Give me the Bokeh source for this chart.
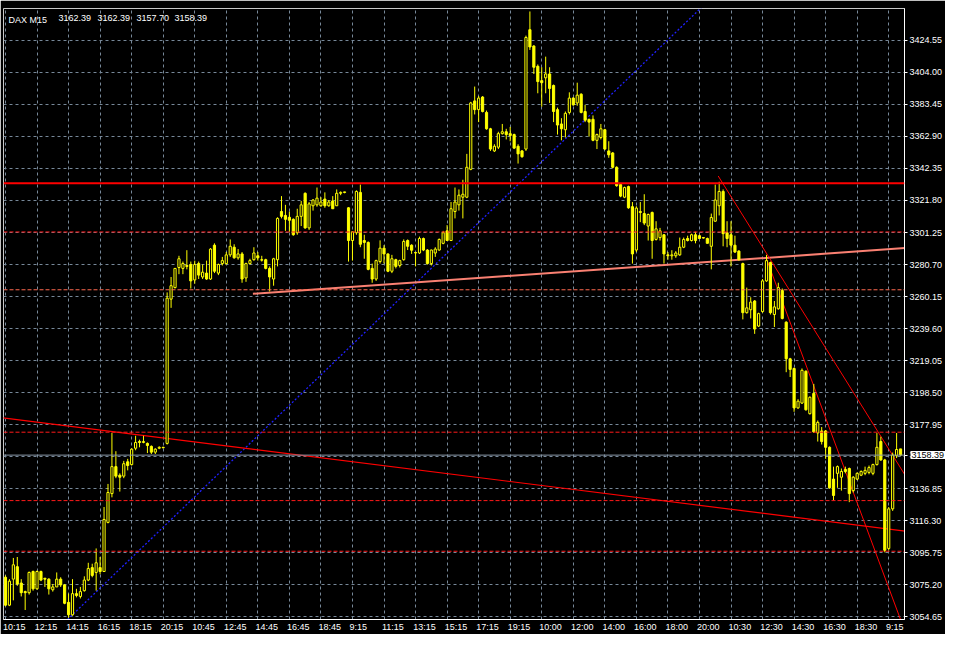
from bokeh.plotting import figure
from bokeh.models import FixedTicker, PrintfTickFormatter, Span, Label, ColumnDataSource
from bokeh.embed import file_html
from bokeh.resources import INLINE

symbol = "DAX M15"

opens = [
    3080.0, 3062.1, 3078.8, 3086.8, 3076.3, 3070.8, 3070.1, 3083.7, 3072.6, 3083.7, 3079.4, 3078.8,
    3072.0, 3073.8, 3078.8, 3075.1, 3063.9, 3055.9, 3069.5, 3067.7, 3071.4, 3078.2, 3086.2, 3083.1,
    3086.2, 3083.7, 3115.2, 3133.7, 3151.0, 3145.5, 3144.9, 3154.1, 3152.3, 3162.8, 3167.1, 3166.5,
    3165.9, 3164.0, 3160.3, 3162.8, 3163.4, 3165.9, 3258.5, 3265.9, 3278.8, 3278.2, 3280.1, 3280.7,
    3270.8, 3281.3, 3272.7, 3275.2, 3271.4, 3293.1, 3275.2, 3281.3, 3281.3, 3286.9, 3291.8, 3285.0,
    3287.5, 3272.1, 3281.3, 3283.8, 3286.3, 3283.8, 3283.8, 3278.2, 3271.4, 3283.8, 3314.7, 3312.2,
    3311.0, 3309.7, 3301.1, 3311.6, 3326.4, 3304.2, 3318.4, 3319.0, 3318.4, 3322.7, 3318.4, 3321.5,
    3318.4, 3326.4, 3327.0, 3317.1, 3296.1, 3301.1, 3327.0, 3296.1, 3294.9, 3278.2, 3271.4, 3282.6,
    3291.2, 3287.5, 3276.4, 3283.8, 3280.1, 3283.8, 3296.1, 3293.1, 3288.4, 3288.1, 3297.4, 3290.0,
    3281.3, 3288.1, 3290.0, 3294.3, 3302.3, 3296.1, 3314.7, 3319.0, 3323.9, 3323.9, 3341.8, 3385.7,
    3380.1, 3388.2, 3378.3, 3367.8, 3353.6, 3356.0, 3364.7, 3365.9, 3364.7, 3364.1, 3356.6, 3353.6,
    3354.8, 3431.4, 3420.9, 3407.9, 3398.7, 3400.5, 3403.0, 3395.6, 3380.1, 3370.9, 3367.2, 3378.3,
    3387.5, 3384.4, 3390.0, 3378.9, 3373.9, 3373.9, 3360.4, 3362.2, 3367.2, 3353.6, 3352.3, 3343.1,
    3332.0, 3323.9, 3330.7, 3317.8, 3290.0, 3314.7, 3313.4, 3305.4, 3314.1, 3296.8, 3298.0, 3299.8,
    3286.9, 3286.3, 3286.3, 3286.9, 3291.8, 3297.4, 3296.1, 3299.8, 3299.2, 3298.0, 3297.4, 3292.4,
    3308.5, 3318.4, 3327.6, 3301.1, 3299.8, 3293.1, 3289.3, 3281.3, 3249.8, 3251.7, 3257.3, 3241.2,
    3250.5, 3270.2, 3282.0, 3248.6, 3252.3, 3264.0, 3243.7, 3220.2, 3214.0, 3188.7, 3191.8, 3212.2,
    3185.0, 3198.0, 3172.6, 3173.9, 3173.9, 3163.4, 3143.0, 3146.7, 3144.2, 3149.2, 3149.8, 3135.6,
    3143.0, 3145.5, 3146.7, 3147.3, 3146.7, 3152.3, 3167.1, 3155.3, 3098.5, 3123.9, 3158.0, 3162.39,
]
highs = [
    3081.2, 3078.8, 3092.4, 3093.0, 3078.8, 3071.4, 3083.7, 3084.3, 3084.3, 3084.3, 3079.4, 3079.4,
    3075.7, 3083.1, 3080.0, 3075.7, 3069.5, 3078.8, 3072.6, 3073.8, 3080.6, 3089.3, 3088.7, 3098.5,
    3093.0, 3125.1, 3139.9, 3172.6, 3160.9, 3146.7, 3154.7, 3156.0, 3162.8, 3170.8, 3168.3, 3170.8,
    3166.5, 3164.6, 3162.8, 3164.0, 3163.7, 3262.8, 3272.7, 3278.4, 3286.3, 3282.6, 3289.9, 3282.6,
    3283.2, 3282.6, 3280.7, 3283.2, 3291.2, 3294.3, 3281.3, 3285.6, 3288.7, 3296.8, 3293.7, 3290.6,
    3288.7, 3281.9, 3284.4, 3291.8, 3288.7, 3286.3, 3284.4, 3279.5, 3285.0, 3311.0, 3324.6, 3319.0,
    3314.7, 3310.3, 3316.5, 3321.5, 3327.0, 3320.8, 3322.7, 3330.1, 3323.9, 3327.0, 3322.1, 3324.6,
    3328.9, 3327.6, 3327.3, 3317.5, 3302.0, 3328.3, 3332.0, 3299.8, 3295.5, 3281.3, 3283.8, 3296.2,
    3293.1, 3287.8, 3286.9, 3284.4, 3283.8, 3296.8, 3296.8, 3293.7, 3288.7, 3298.6, 3298.0, 3290.6,
    3290.3, 3291.8, 3297.4, 3302.3, 3306.0, 3320.8, 3330.1, 3328.9, 3335.1, 3351.7, 3385.1, 3394.9,
    3388.8, 3388.8, 3379.5, 3368.4, 3357.9, 3365.9, 3370.9, 3367.8, 3369.0, 3364.7, 3357.9, 3354.2,
    3427.6, 3443.1, 3421.5, 3409.1, 3407.3, 3414.1, 3407.3, 3396.2, 3381.4, 3374.6, 3378.9, 3391.2,
    3388.2, 3397.4, 3390.6, 3383.2, 3374.2, 3376.4, 3364.7, 3370.9, 3367.8, 3359.8, 3352.9, 3343.7,
    3332.6, 3330.7, 3331.3, 3320.8, 3318.1, 3320.8, 3325.8, 3313.4, 3314.7, 3308.5, 3304.2, 3300.2,
    3288.7, 3289.9, 3289.3, 3298.0, 3298.0, 3299.2, 3300.5, 3301.7, 3299.8, 3298.3, 3298.0, 3313.4,
    3332.0, 3333.8, 3328.9, 3308.5, 3308.5, 3299.2, 3289.9, 3281.9, 3265.9, 3259.7, 3257.9, 3249.8,
    3271.4, 3286.9, 3282.6, 3257.3, 3269.0, 3265.3, 3244.3, 3220.8, 3214.6, 3194.3, 3214.0, 3212.8,
    3196.1, 3204.1, 3180.6, 3176.4, 3174.5, 3164.0, 3151.0, 3151.7, 3149.8, 3151.0, 3150.4, 3144.9,
    3147.3, 3148.6, 3151.0, 3151.7, 3152.9, 3172.6, 3170.2, 3156.0, 3125.1, 3160.0, 3172.6, 3162.39,
]
lows = [
    3061.5, 3061.5, 3065.2, 3074.5, 3067.7, 3059.0, 3068.9, 3071.4, 3072.0, 3077.5, 3073.8, 3068.9,
    3070.8, 3073.8, 3073.8, 3062.7, 3054.1, 3055.3, 3067.1, 3066.4, 3070.8, 3077.5, 3080.0, 3071.4,
    3081.9, 3083.7, 3114.6, 3131.3, 3143.6, 3135.0, 3143.6, 3148.6, 3151.7, 3161.5, 3163.4, 3166.0,
    3159.7, 3159.1, 3159.1, 3162.2, 3162.8, 3165.2, 3252.9, 3265.3, 3274.5, 3274.5, 3277.6, 3265.3,
    3268.4, 3271.4, 3271.4, 3270.8, 3270.8, 3275.2, 3273.9, 3280.1, 3280.7, 3285.6, 3284.4, 3283.8,
    3269.0, 3269.6, 3280.7, 3283.2, 3283.2, 3282.6, 3277.6, 3263.4, 3267.1, 3279.5, 3310.3, 3302.3,
    3301.7, 3299.2, 3299.8, 3305.4, 3303.6, 3302.9, 3315.3, 3317.8, 3317.8, 3317.1, 3317.8, 3316.5,
    3318.4, 3325.2, 3326.4, 3282.6, 3283.2, 3299.8, 3291.8, 3284.4, 3277.0, 3269.0, 3270.2, 3281.3,
    3281.3, 3275.8, 3275.2, 3278.2, 3278.8, 3283.2, 3290.0, 3287.5, 3279.5, 3287.5, 3289.3, 3280.7,
    3280.1, 3285.6, 3289.6, 3293.7, 3295.8, 3295.8, 3310.3, 3315.3, 3310.3, 3323.3, 3341.2, 3377.0,
    3372.1, 3378.3, 3367.2, 3353.6, 3352.9, 3354.8, 3364.1, 3361.0, 3359.8, 3354.8, 3345.5, 3349.2,
    3353.6, 3418.4, 3403.0, 3390.6, 3382.0, 3390.6, 3384.4, 3372.1, 3364.1, 3360.4, 3362.2, 3377.0,
    3382.6, 3382.6, 3377.7, 3372.1, 3362.8, 3359.8, 3354.8, 3361.0, 3354.2, 3349.2, 3342.5, 3330.6,
    3323.9, 3323.3, 3316.5, 3281.3, 3288.7, 3307.9, 3306.0, 3296.1, 3284.4, 3296.1, 3296.1, 3281.3,
    3283.8, 3283.8, 3285.0, 3286.3, 3291.2, 3295.5, 3295.5, 3294.3, 3297.4, 3297.4, 3294.3, 3277.6,
    3308.2, 3312.2, 3292.4, 3291.8, 3279.5, 3288.1, 3283.2, 3245.5, 3249.2, 3246.1, 3236.2, 3240.6,
    3249.8, 3269.6, 3248.6, 3240.6, 3251.7, 3245.5, 3211.6, 3208.5, 3186.2, 3188.1, 3191.2, 3186.9,
    3184.4, 3172.6, 3167.1, 3165.2, 3156.0, 3136.8, 3129.4, 3137.4, 3135.6, 3146.7, 3128.2, 3134.4,
    3142.4, 3144.9, 3145.5, 3146.1, 3145.5, 3151.7, 3154.7, 3096.0, 3097.3, 3122.6, 3156.5, 3157.70,
]
closes = [
    3062.1, 3077.5, 3088.0, 3075.7, 3070.1, 3070.1, 3083.1, 3072.6, 3083.7, 3078.2, 3078.8, 3072.6,
    3073.8, 3078.8, 3075.1, 3063.3, 3055.9, 3069.5, 3068.3, 3070.8, 3078.2, 3085.6, 3081.2, 3089.3,
    3083.7, 3117.1, 3134.4, 3151.0, 3144.9, 3144.2, 3152.9, 3151.7, 3162.2, 3166.5, 3166.5, 3167.1,
    3164.6, 3160.3, 3162.2, 3163.4, 3163.1, 3259.1, 3267.1, 3278.2, 3284.4, 3281.3, 3279.5, 3270.2,
    3280.7, 3273.9, 3275.8, 3271.4, 3290.6, 3276.4, 3280.7, 3283.2, 3286.9, 3292.4, 3285.0, 3287.5,
    3271.4, 3281.3, 3283.2, 3288.1, 3285.0, 3283.5, 3278.2, 3272.7, 3284.4, 3310.3, 3311.6, 3309.7,
    3309.1, 3299.8, 3311.6, 3319.0, 3304.2, 3319.6, 3322.1, 3323.3, 3320.8, 3318.4, 3320.8, 3316.5,
    3326.4, 3327.0, 3327.0, 3296.1, 3301.7, 3327.6, 3293.7, 3294.9, 3277.6, 3271.4, 3283.2, 3291.2,
    3287.5, 3276.4, 3284.4, 3279.5, 3283.2, 3295.5, 3292.4, 3289.9, 3288.1, 3297.4, 3290.0, 3281.3,
    3290.0, 3290.6, 3296.8, 3301.1, 3296.1, 3316.5, 3320.8, 3325.2, 3325.8, 3343.1, 3384.4, 3380.1,
    3387.5, 3378.9, 3367.8, 3354.8, 3356.6, 3364.7, 3365.9, 3364.1, 3363.5, 3355.4, 3351.7, 3349.9,
    3426.4, 3420.3, 3407.3, 3398.1, 3397.4, 3403.0, 3393.7, 3378.9, 3370.2, 3367.8, 3377.7, 3387.5,
    3383.2, 3389.4, 3378.3, 3373.3, 3372.1, 3360.4, 3364.1, 3367.8, 3354.8, 3351.1, 3343.1, 3331.3,
    3324.6, 3330.1, 3317.1, 3287.5, 3316.9, 3314.1, 3307.3, 3312.8, 3296.1, 3303.6, 3302.3, 3287.5,
    3286.3, 3286.9, 3288.1, 3291.8, 3296.8, 3296.1, 3299.8, 3296.1, 3297.4, 3297.7, 3294.3, 3310.9,
    3322.1, 3327.6, 3300.5, 3297.4, 3293.1, 3288.7, 3283.8, 3249.8, 3252.9, 3256.6, 3239.3, 3249.2,
    3270.2, 3283.2, 3249.8, 3253.5, 3265.9, 3246.1, 3220.2, 3213.4, 3188.7, 3193.0, 3212.8, 3187.5,
    3195.5, 3173.3, 3179.4, 3167.1, 3163.4, 3137.4, 3132.5, 3151.0, 3147.9, 3147.9, 3133.7, 3144.2,
    3146.7, 3147.9, 3148.6, 3150.4, 3152.3, 3163.4, 3155.3, 3097.3, 3123.9, 3158.5, 3162.0, 3158.39,
]

time_labels = ["10:15", "12:15", "14:15", "16:15", "18:15", "20:15", "10:45", "12:45", "14:45",
               "16:45", "18:45", "9:15", "11:15", "13:15", "15:15", "17:15", "19:15", "10:00",
               "12:00", "14:00", "16:00", "18:00", "20:00", "10:30", "12:30", "14:30", "16:30",
               "18:30", "9:15"]
time_label_bars = [0, 8, 16, 24, 32, 40, 48, 56, 64, 72, 80, 88, 96, 104, 112, 120, 128, 136,
                   144, 152, 160, 168, 176, 184, 192, 200, 208, 216, 224]

price_grid = [3054.65, 3075.20, 3095.75, 3116.30, 3136.85, 3157.40, 3177.95, 3198.50, 3219.05,
              3239.60, 3260.15, 3280.70, 3301.25, 3321.80, 3342.35, 3362.90, 3383.45, 3404.00,
              3424.55]
price_axis_labels = [3054.65, 3075.20, 3095.75, 3116.30, 3136.85, 3177.95, 3198.50, 3219.05,
                     3239.60, 3260.15, 3280.70, 3301.25, 3321.80, 3342.35, 3362.90, 3383.45,
                     3404.00, 3424.55]

solid_level = [3332.8]
dashed_levels = [3301.6, 3173.1, 3129.2, 3096.7]
dashed_level_light = [3264.5]

long_red_x = [-1.25, 228.5]
long_red_y = [3182.5, 3109.5]
salmon_x = [62.75, 228.5]
salmon_y = [3261.9, 3291.3]
blue_x = [15.75, 180.0]
blue_y = [3052.9, 3454.2]
red_a_x = [180.75, 228.5]
red_a_y = [3337.5, 3144.1]
red_b_x = [193.0, 228.5]
red_b_y = [3284.4, 3042.6]

X_RANGE = (-0.5, 228.0)
Y_RANGE = (3052.9, 3445.0)

YEL = "#ffff00"
GRID = "#778899"
FONT = "Liberation Sans"
W, H = 945, 634

n = len(opens)
xs = list(range(n))
tops, bottoms, fills = [], [], []
for o, c in zip(opens, closes):
    t, b = max(o, c), min(o, c)
    if t - b < 0.3:
        t = b + 0.3
    tops.append(t)
    bottoms.append(b)
    fills.append("black" if c > o else YEL)

src = ColumnDataSource(dict(x=xs, high=highs, low=lows, top=tops, bottom=bottoms, fill=fills))

p = figure(width=W, height=H, x_range=X_RANGE, y_range=Y_RANGE,
           output_backend="svg", toolbar_location=None, y_axis_location="right",
           min_border_left=3, min_border_right=36, min_border_top=0, min_border_bottom=12)
p.background_fill_color = "black"
p.border_fill_color = "black"
p.outline_line_color = "#c8c8c8"

p.xgrid.ticker = FixedTicker(ticks=time_label_bars)
p.ygrid.ticker = FixedTicker(ticks=price_grid)
for g in (p.xgrid, p.ygrid):
    g.grid_line_color = GRID
    g.grid_line_dash = "3 3"
    g.grid_line_width = 1

# time labels start just left of their grid line (shift centre right by half a label)
label_ticks = [b + (2.25 if len(t) == 5 else 1.5) for b, t in zip(time_label_bars, time_labels)]
xa = p.xaxis[0]
xa.ticker = FixedTicker(ticks=label_ticks)
xa.major_label_overrides = {k: t for k, t in zip(label_ticks, time_labels)}

ya = p.yaxis[0]
ya.ticker = FixedTicker(ticks=price_axis_labels + [closes[-1]])
ya.formatter = PrintfTickFormatter(format="%.2f")

for ax in (xa, ya):
    ax.axis_label = None
    ax.axis_label_standoff = 0
    ax.axis_label_text_font_size = "0px"
    ax.minor_tick_line_color = None
    ax.minor_tick_out = 0
    ax.minor_tick_in = 0
    ax.major_tick_in = 0
    ax.axis_line_color = "white"
    ax.major_label_text_color = "white"
    ax.major_label_text_font = FONT
    ax.major_label_text_font_size = "9px"
    ax.major_label_standoff = 2

xa.major_tick_out = 0
xa.major_tick_line_color = None
ya.major_tick_out = 3
ya.major_tick_line_color = "white"

# horizontal levels
for lv in solid_level:
    p.add_layout(Span(location=lv, dimension="width", line_color="#ff0000", line_width=2))
for lv in dashed_levels:
    p.add_layout(Span(location=lv, dimension="width", line_color="#ff1a1a", line_width=1,
                      line_dash="4 2"))
for lv in dashed_level_light:
    p.add_layout(Span(location=lv, dimension="width", line_color="#ff6a50", line_width=1,
                      line_dash="4 2"))
p.add_layout(Span(location=closes[-1], dimension="width", line_color="#8a99a8", line_width=1))

# trend lines
p.line(blue_x, blue_y, line_color="#2020ff", line_width=1.3, line_dash="2 2")
p.line(long_red_x, long_red_y, line_color="#ff0000", line_width=1.2)
p.line(salmon_x, salmon_y, line_color="#fa8072", line_width=2)
p.line(red_a_x, red_a_y, line_color="#ff0000", line_width=1)
p.line(red_b_x, red_b_y, line_color="#ff0000", line_width=1)

# candles
p.segment(x0="x", y0="low", x1="x", y1="high", source=src, line_color=YEL, line_width=1)
p.vbar(x="x", width=0.55, top="top", bottom="bottom", source=src,
       fill_color="fill", line_color=YEL, line_width=1)

# header texts
header = [symbol, f"{opens[-1]:.2f}", f"{highs[-1]:.2f}", f"{lows[-1]:.2f}", f"{closes[-1]:.2f}"]
offsets = [5, 55, 94, 133, 171]
for txt, off in zip(header, offsets):
    p.add_layout(Label(x=X_RANGE[0], y=Y_RANGE[1], x_offset=off, y_offset=-6, text=txt,
                       text_baseline="top", text_align="left", text_color="white",
                       text_font=FONT, text_font_size="9px"))

# current price tag on the axis (placed in a side panel so it is not clipped to the frame)
tag = Label(x=X_RANGE[1], y=closes[-1], x_offset=6, text=f"{closes[-1]:.2f}",
            text_baseline="middle", text_align="left", text_color="black",
            text_font=FONT, text_font_size="9px",
            background_fill_color="white", padding=1)
p.add_layout(tag, "above")

open("out.html", "w").write(file_html(p, INLINE))
